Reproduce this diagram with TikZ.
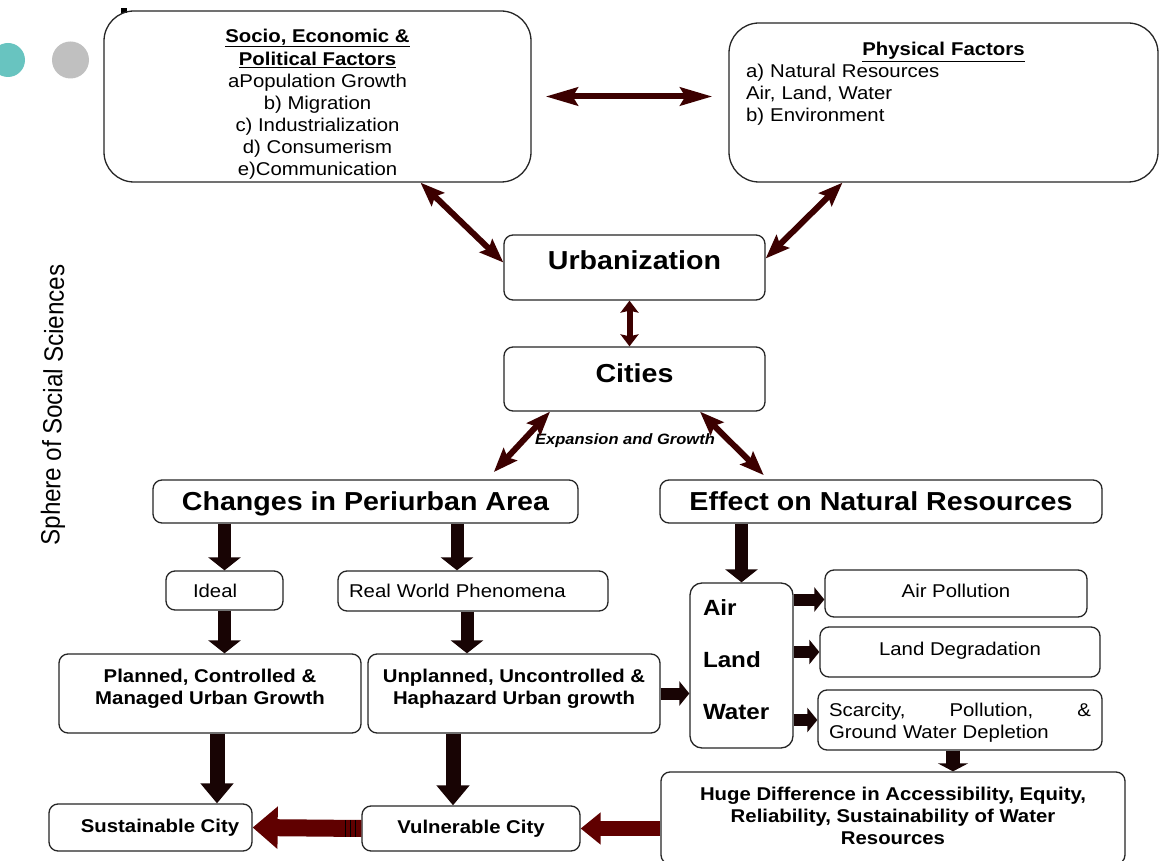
\documentclass[tikz,border=0pt]{standalone}
\usepackage{fontspec}
\setmainfont[FakeStretch=1.1]{Liberation Sans}
\newfontfamily\sidefont[FakeStretch=0.91]{Liberation Sans}
\usetikzlibrary{arrows.meta}

\definecolor{darkmaroon}{RGB}{60,0,0}
\definecolor{nearblack}{RGB}{24,4,4}
\definecolor{blockred}{RGB}{96,0,0}
\definecolor{tealdot}{RGB}{104,196,192}
\definecolor{graydot}{RGB}{192,192,192}

\newcommand{\textsz}{\fontsize{18.5}{22}\selectfont}
\newcommand{\titlesz}{\fontsize{26}{30}\selectfont\bfseries}

\begin{document}
\begin{tikzpicture}[
  x=1pt, y=-1pt,
  round_box/.style={draw=black!85, line width=1.3pt, rounded corners=9pt, inner sep=0pt, font=\textsz},
  big_box/.style={round_box, rounded corners=30pt},
  dbl_arrow/.style={line width=6pt, draw=darkmaroon, {Stealth[length=24pt,width=18pt,inset=4pt]}-{Stealth[length=24pt,width=18pt,inset=4pt]}},
  short_heads/.style={{Stealth[length=12pt,width=18pt,inset=2pt]}-{Stealth[length=12pt,width=18pt,inset=2pt]}},
  long_heads/.style={{Stealth[length=32pt,width=18pt,inset=5pt]}-{Stealth[length=32pt,width=18pt,inset=5pt]}},
  down_arrow/.style={line width=13pt, draw=nearblack, -{Triangle[length=13pt,width=32pt]}},
  long_head/.style={line width=15pt, -{Triangle[length=20pt,width=32pt]}},
  short_head/.style={line width=14pt, -{Triangle[length=8pt,width=30pt]}},
  side_arrow/.style={line width=12pt, draw=nearblack, -{Triangle[length=10pt,width=24pt]}},
  block_arrow/.style={line width=17pt, draw=blockred, -{Triangle[length=25pt,width=41pt]}},
  stripe/.style={draw=black, line width=1.6pt},
]
\useasboundingbox (0,0) rectangle (1160,861);
\fill[white] (0,0) rectangle (1160,861);

\fill[tealdot] (8,60) circle (17pt);
\fill[graydot] (70.5,60) circle (18.5pt);
\fill (121,8) rectangle (127,13);

\draw (55,405) node (sphere) [rotate=89, font=\sidefont\fontsize{26.4}{30}\selectfont] {Sphere of Social Sciences};

\draw (317.5,96.5) node (socio) [big_box, minimum width=427pt, minimum height=171pt] {};
\draw (317.5,104) node (sociolist) [inner sep=0pt, align=center, font=\textsz]
  {\underline{\textbf{Socio, Economic \&}}\\[1pt] \underline{\textbf{Political Factors}}\\ aPopulation Growth\\ b) Migration\\ c) Industrialization\\ d) Consumerism\\ e)Communication};
\draw (943.5,102.5) node (phys) [big_box, minimum width=429pt, minimum height=159pt] {};
\draw (943.5,42) node (physlist) [anchor=north, inner sep=0pt, text width=395pt, align=left, font=\textsz]
  {\makebox[395pt][c]{\underline{\textbf{Physical Factors}}}\\ a) Natural Resources\\ Air, Land, Water\\ b) Environment};

\draw (634.5,267.5) node (urban) [round_box, minimum width=261pt, minimum height=65pt, font=\titlesz, text depth=15pt] {Urbanization};
\draw (634.5,379) node (cities) [round_box, minimum width=261pt, minimum height=64pt, font=\titlesz, text depth=12pt] {Cities};
\draw (625,441) node (expgrowth) [font=\fontsize{15}{18}\selectfont\bfseries\itshape] {Expansion and Growth};

\draw (365.5,501.5) node (changes) [round_box, minimum width=425pt, minimum height=43pt, font=\titlesz, text depth=0pt] {Changes in Periurban Area};
\draw (881,501.5) node (effect) [round_box, minimum width=442pt, minimum height=43pt, font=\titlesz, text depth=0pt] {Effect on Natural Resources};

\draw (224.5,590.5) node (ideal) [round_box, minimum height=39pt, text width=117pt, align=left] {\hspace*{27pt}Ideal};
\draw (473,591) node (real) [round_box, minimum height=40pt, text width=270pt, align=left] {\hspace*{11pt}Real World Phenomena};
\draw (210,693.5) node (planned) [round_box, minimum width=302pt, minimum height=79pt, align=center, font=\textsz\bfseries, text depth=14pt]
  {Planned, Controlled \&\\ Managed Urban Growth};
\draw (514,693.5) node (unplanned) [round_box, minimum width=292pt, minimum height=79pt, align=center, font=\textsz\bfseries, text depth=14pt]
  {Unplanned, Uncontrolled \&\\ Haphazard Urban growth};
\draw (150.5,827.5) node (sust) [round_box, minimum width=203pt, minimum height=47pt, font=\textsz\bfseries] {\hspace*{19pt}Sustainable City};
\draw (471,828.5) node (vuln) [round_box, minimum width=218pt, minimum height=45pt, font=\textsz\bfseries] {Vulnerable City};

\draw (741.5,665.5) node (alw) [round_box, rounded corners=12pt, minimum height=165pt, text width=77pt, inner xsep=13pt, align=left, font=\fontsize{22}{52}\selectfont\bfseries, text depth=116pt]
  {Air\\ Land\\ Water};
\draw (956,593.5) node (airp) [round_box, minimum width=262pt, minimum height=47pt, text depth=6pt] {Air Pollution};
\draw (960,652) node (land) [round_box, minimum width=280pt, minimum height=50pt, text depth=7pt] {Land Degradation};
\draw (960,720) node (scar) [round_box, minimum height=60pt, text width=262pt, inner xsep=11pt, align=left, text depth=20.5pt]
  {Scarcity,\hfill Pollution,\hfill \&\\ Ground Water Depletion};
\draw (893,818) node (huge) [round_box, minimum width=464pt, minimum height=92pt, align=center, font=\textsz\bfseries, text depth=5pt]
  {Huge Difference in Accessibility, Equity,\\ Reliability, Sustainability of Water\\ Resources};

\draw[dbl_arrow, long_heads, shorten <=14pt, shorten >=16pt] (socio.east) -- (socio.east -| phys.west);
\draw[dbl_arrow] ([xshift=103pt]socio.south) -- ([yshift=5pt]urban.west);
\draw[dbl_arrow] ([xshift=-101pt]phys.south) -- ([yshift=9pt]urban.east);
\draw[dbl_arrow, short_heads] ([xshift=-5pt]urban.south) -- ([xshift=-5pt]cities.north);
\draw[dbl_arrow, shorten >=10pt] ([xshift=-84.5pt]cities.south) -- ([xshift=121.5pt]changes.north);
\draw[dbl_arrow, shorten >=6pt] ([xshift=65.5pt]cities.south) -- ([xshift=-113pt]effect.north);

\draw[down_arrow] (ideal.north |- changes.south) -- (ideal.north);
\draw[down_arrow] ([xshift=-16pt]real.north |- changes.south) -- ([xshift=-16pt]real.north);
\draw[down_arrow] (ideal.south) -- (ideal.south |- planned.north);
\draw[down_arrow] ([xshift=-6pt]real.south) -- ([xshift=-6pt]real.south |- unplanned.north);
\draw[down_arrow, long_head] ([xshift=7pt]planned.south) -- ([xshift=7pt]planned.south |- sust.north);
\draw[down_arrow, long_head] ([xshift=-18pt]vuln.north |- unplanned.south) -- ([xshift=-18pt]vuln.north);
\draw[down_arrow] (alw.north |- effect.south) -- (alw.north);
\draw[down_arrow, short_head] ([xshift=-7pt]scar.south) -- ([xshift=-7pt]scar.south |- huge.north);

\draw[side_arrow] (unplanned.east) -- (unplanned.east -| alw.west);
\draw[side_arrow] ([yshift=-6pt]airp.west -| alw.east) -- ([yshift=-6pt]airp.west);
\draw[side_arrow] (land.west -| alw.east) -- (land.west);
\draw[side_arrow] (scar.west -| alw.east) -- (scar.west);

\draw[block_arrow] (vuln.west) -- (sust.east);
\draw[stripe] ([xshift=-6pt,yshift=8.5pt]vuln.west) -- ([xshift=-6pt,yshift=-8.5pt]vuln.west);
\draw[stripe] ([xshift=-11pt,yshift=8.5pt]vuln.west) -- ([xshift=-11pt,yshift=-8.5pt]vuln.west);
\draw[stripe] ([xshift=-16pt,yshift=8.5pt]vuln.west) -- ([xshift=-16pt,yshift=-8.5pt]vuln.west);
\draw[block_arrow, line width=15pt, -{Triangle[length=20pt,width=31pt]}] (vuln.east -| huge.west) -- (vuln.east);
\end{tikzpicture}
\end{document}
